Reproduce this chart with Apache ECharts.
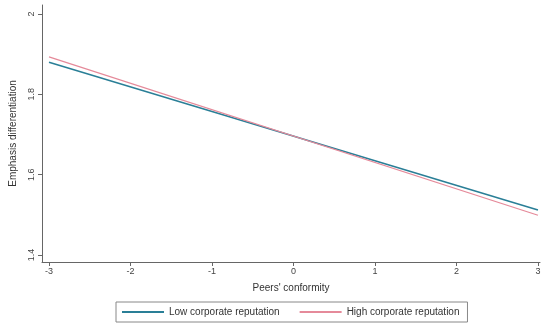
<!doctype html>
<html>
<head>
<meta charset="utf-8">
<title>Emphasis differentiation</title>
<script src="https://cdn.jsdelivr.net/npm/echarts@6.0.0/dist/echarts.min.js"></script>
<style>
  html, body { margin: 0; padding: 0; background: #fff; }
  #container { width: 544px; height: 329px; }
</style>
</head>
<body>
<div id="container"></div>
<script>
// peers' conformity (x) and predicted emphasis differentiation
var xVals = [-3, 3];
var lowRep = [1.880, 1.512];
var highRep = [1.893, 1.499];
var xTicks = [-3, -2, -1, 0, 1, 2, 3];
var yTicks = [1.4, 1.6, 1.8, 2];
var seriesNames = ['Low corporate reputation', 'High corporate reputation'];

function pairs(xs, ys) {
    var out = [];
    for (var i = 0; i < xs.length; i++) out.push([xs[i], ys[i]]);
    return out;
}

var myChart = echarts.init(document.getElementById('container'));
var option = {
    backgroundColor: '#fff',
    animation: false,
    textStyle: { fontFamily: 'Liberation Sans, Arial, sans-serif' },
    grid: { left: 42, right: 4, top: 5, bottom: 67 },
    xAxis: {
        type: 'value',
        min: -3.086,
        max: 3.025,
        name: "Peers' conformity",
        nameLocation: 'middle',
        nameGap: 21,
        nameTextStyle: { fontSize: 10, color: '#333' },
        axisLine: { onZero: false, lineStyle: { color: '#666', width: 1 } },
        axisTick: { customValues: xTicks, length: 4, lineStyle: { color: '#666' } },
        axisLabel: { customValues: xTicks, fontSize: 9, color: '#444', margin: 5 },
        splitLine: { show: false }
    },
    yAxis: {
        type: 'value',
        min: 1.3826,
        max: 2.0224,
        name: 'Emphasis differentiation',
        nameLocation: 'middle',
        nameGap: 24,
        nameRotate: 90,
        nameTextStyle: { fontSize: 10, color: '#333' },
        axisLine: { show: true, onZero: false, lineStyle: { color: '#666', width: 1 } },
        axisTick: { show: true, customValues: yTicks, length: 4, lineStyle: { color: '#666' } },
        axisLabel: { customValues: yTicks, fontSize: 9, color: '#444', rotate: 90, margin: 6 },
        splitLine: { show: false }
    },
    legend: {
        left: 116,
        top: 302,
        width: 370,
        padding: [5, 8, 5, 6],
        borderColor: '#888',
        borderWidth: 1,
        itemWidth: 42,
        itemHeight: 2,
        itemGap: 20,
        icon: 'rect',
        textStyle: { fontSize: 10, color: '#333' },
        data: seriesNames
    },
    series: [
        {
            name: seriesNames[0],
            type: 'line',
            symbol: 'none',
            data: pairs(xVals, lowRep),
            lineStyle: { color: '#2a7f97', width: 1.6 },
            itemStyle: { color: '#2a7f97' }
        },
        {
            name: seriesNames[1],
            type: 'line',
            symbol: 'none',
            data: pairs(xVals, highRep),
            lineStyle: { color: '#e58a9a', width: 1.3 },
            itemStyle: { color: '#e58a9a' }
        }
    ]
};
myChart.setOption(option);
</script>
</body>
</html>
